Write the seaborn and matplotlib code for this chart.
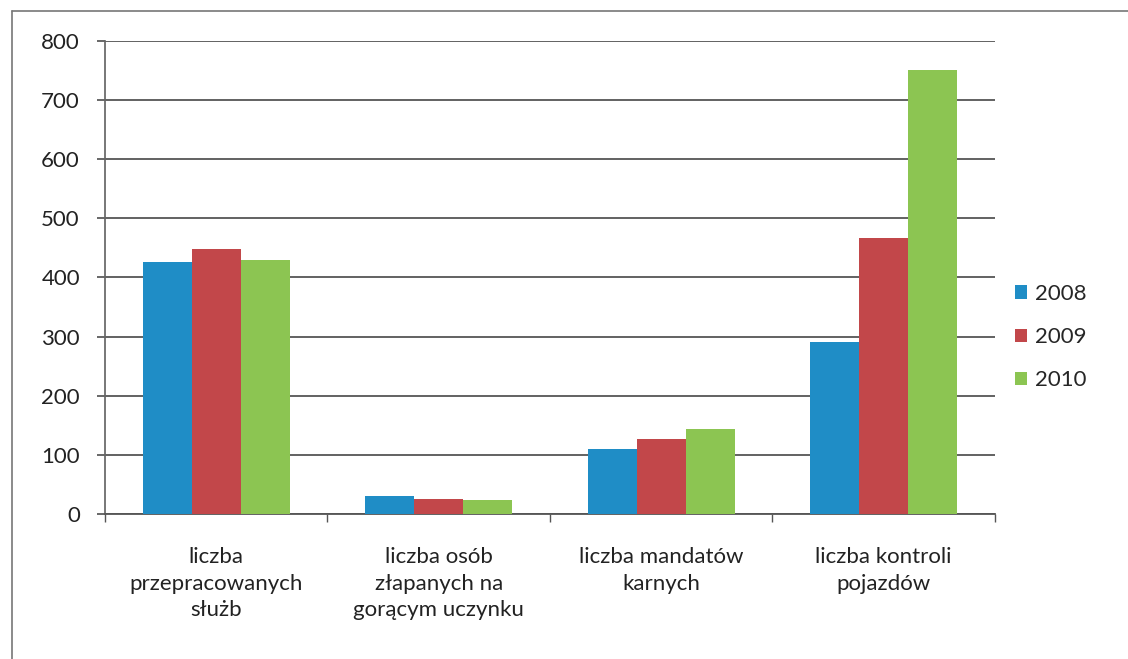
import pandas as pd
import numpy as np
import matplotlib.pyplot as plt
import seaborn as sns
from matplotlib.lines import Line2D

# Data
categories = [
    "liczba\nprzepracowanych\nsłużb",
    "liczba osób\nzłapanych na\ngorącym uczynku",
    "liczba mandatów\nkarnych",
    "liczba kontroli\npojazdów",
]
years = ["2008", "2009", "2010"]
values_2008 = [426, 30, 110, 290]
values_2009 = [448, 25, 127, 466]
values_2010 = [430, 24, 144, 750]
y_ticks = [0, 100, 200, 300, 400, 500, 600, 700, 800]

df = pd.DataFrame({
    "kategoria": categories * 3,
    "rok": [y for y in years for _ in categories],
    "wartosc": values_2008 + values_2009 + values_2010,
})

sns.set_theme(style="white")
plt.rcParams["font.family"] = ["Lato", "DejaVu Sans"]

fig = plt.figure(figsize=(11.28, 6.59), dpi=100)
ax = fig.add_axes([0.093, 0.22, 0.789, 0.718])

palette = {"2008": "#1F8DC6", "2009": "#C2474A", "2010": "#8CC552"}
sns.barplot(data=df, x="kategoria", y="wartosc", hue="rok", palette=palette,
            width=0.66, saturation=1, linewidth=0, ax=ax, zorder=3)

ax.set_ylim(0, 800)
ax.set_yticks(y_ticks)
ax.set_xlim(-0.5, len(categories) - 0.5)
ax.yaxis.grid(True, color="#555555", linewidth=1.3, zorder=0)
ax.xaxis.grid(False)
for s in ["top", "right"]:
    ax.spines[s].set_visible(False)
ax.spines["left"].set_color("#666666")
ax.spines["bottom"].set_color("#555555")
ax.spines["bottom"].set_linewidth(1.3)

# ticks between categories on x axis
ax.set_xticks(np.arange(-0.5, len(categories), 1.0), minor=True)
ax.tick_params(axis="x", which="minor", length=6, color="#555555", bottom=True)
ax.tick_params(axis="x", which="major", length=0, labelsize=16, pad=24,
               labelcolor="#222222")
for lbl in ax.get_xticklabels():
    lbl.set_linespacing(1.4)
ax.tick_params(axis="y", length=6, color="#555555", left=True, labelsize=16,
               pad=12, labelcolor="#222222")
ax.set_xlabel("")
ax.set_ylabel("")

ax.legend(loc="center left", bbox_to_anchor=(1.0, 0.374), frameon=False,
          fontsize=16, handlelength=0.55, handleheight=0.55, labelspacing=1.05,
          handletextpad=0.35)

# outer chart frame (only top and left edges are visible in the scan)
fig.add_artist(Line2D([0.011, 1.0], [0.983, 0.983], transform=fig.transFigure,
                      color="#777777", linewidth=1.2))
fig.add_artist(Line2D([0.011, 0.011], [0.0, 0.983], transform=fig.transFigure,
                      color="#777777", linewidth=1.2))

fig.savefig("out.png", dpi=100)
